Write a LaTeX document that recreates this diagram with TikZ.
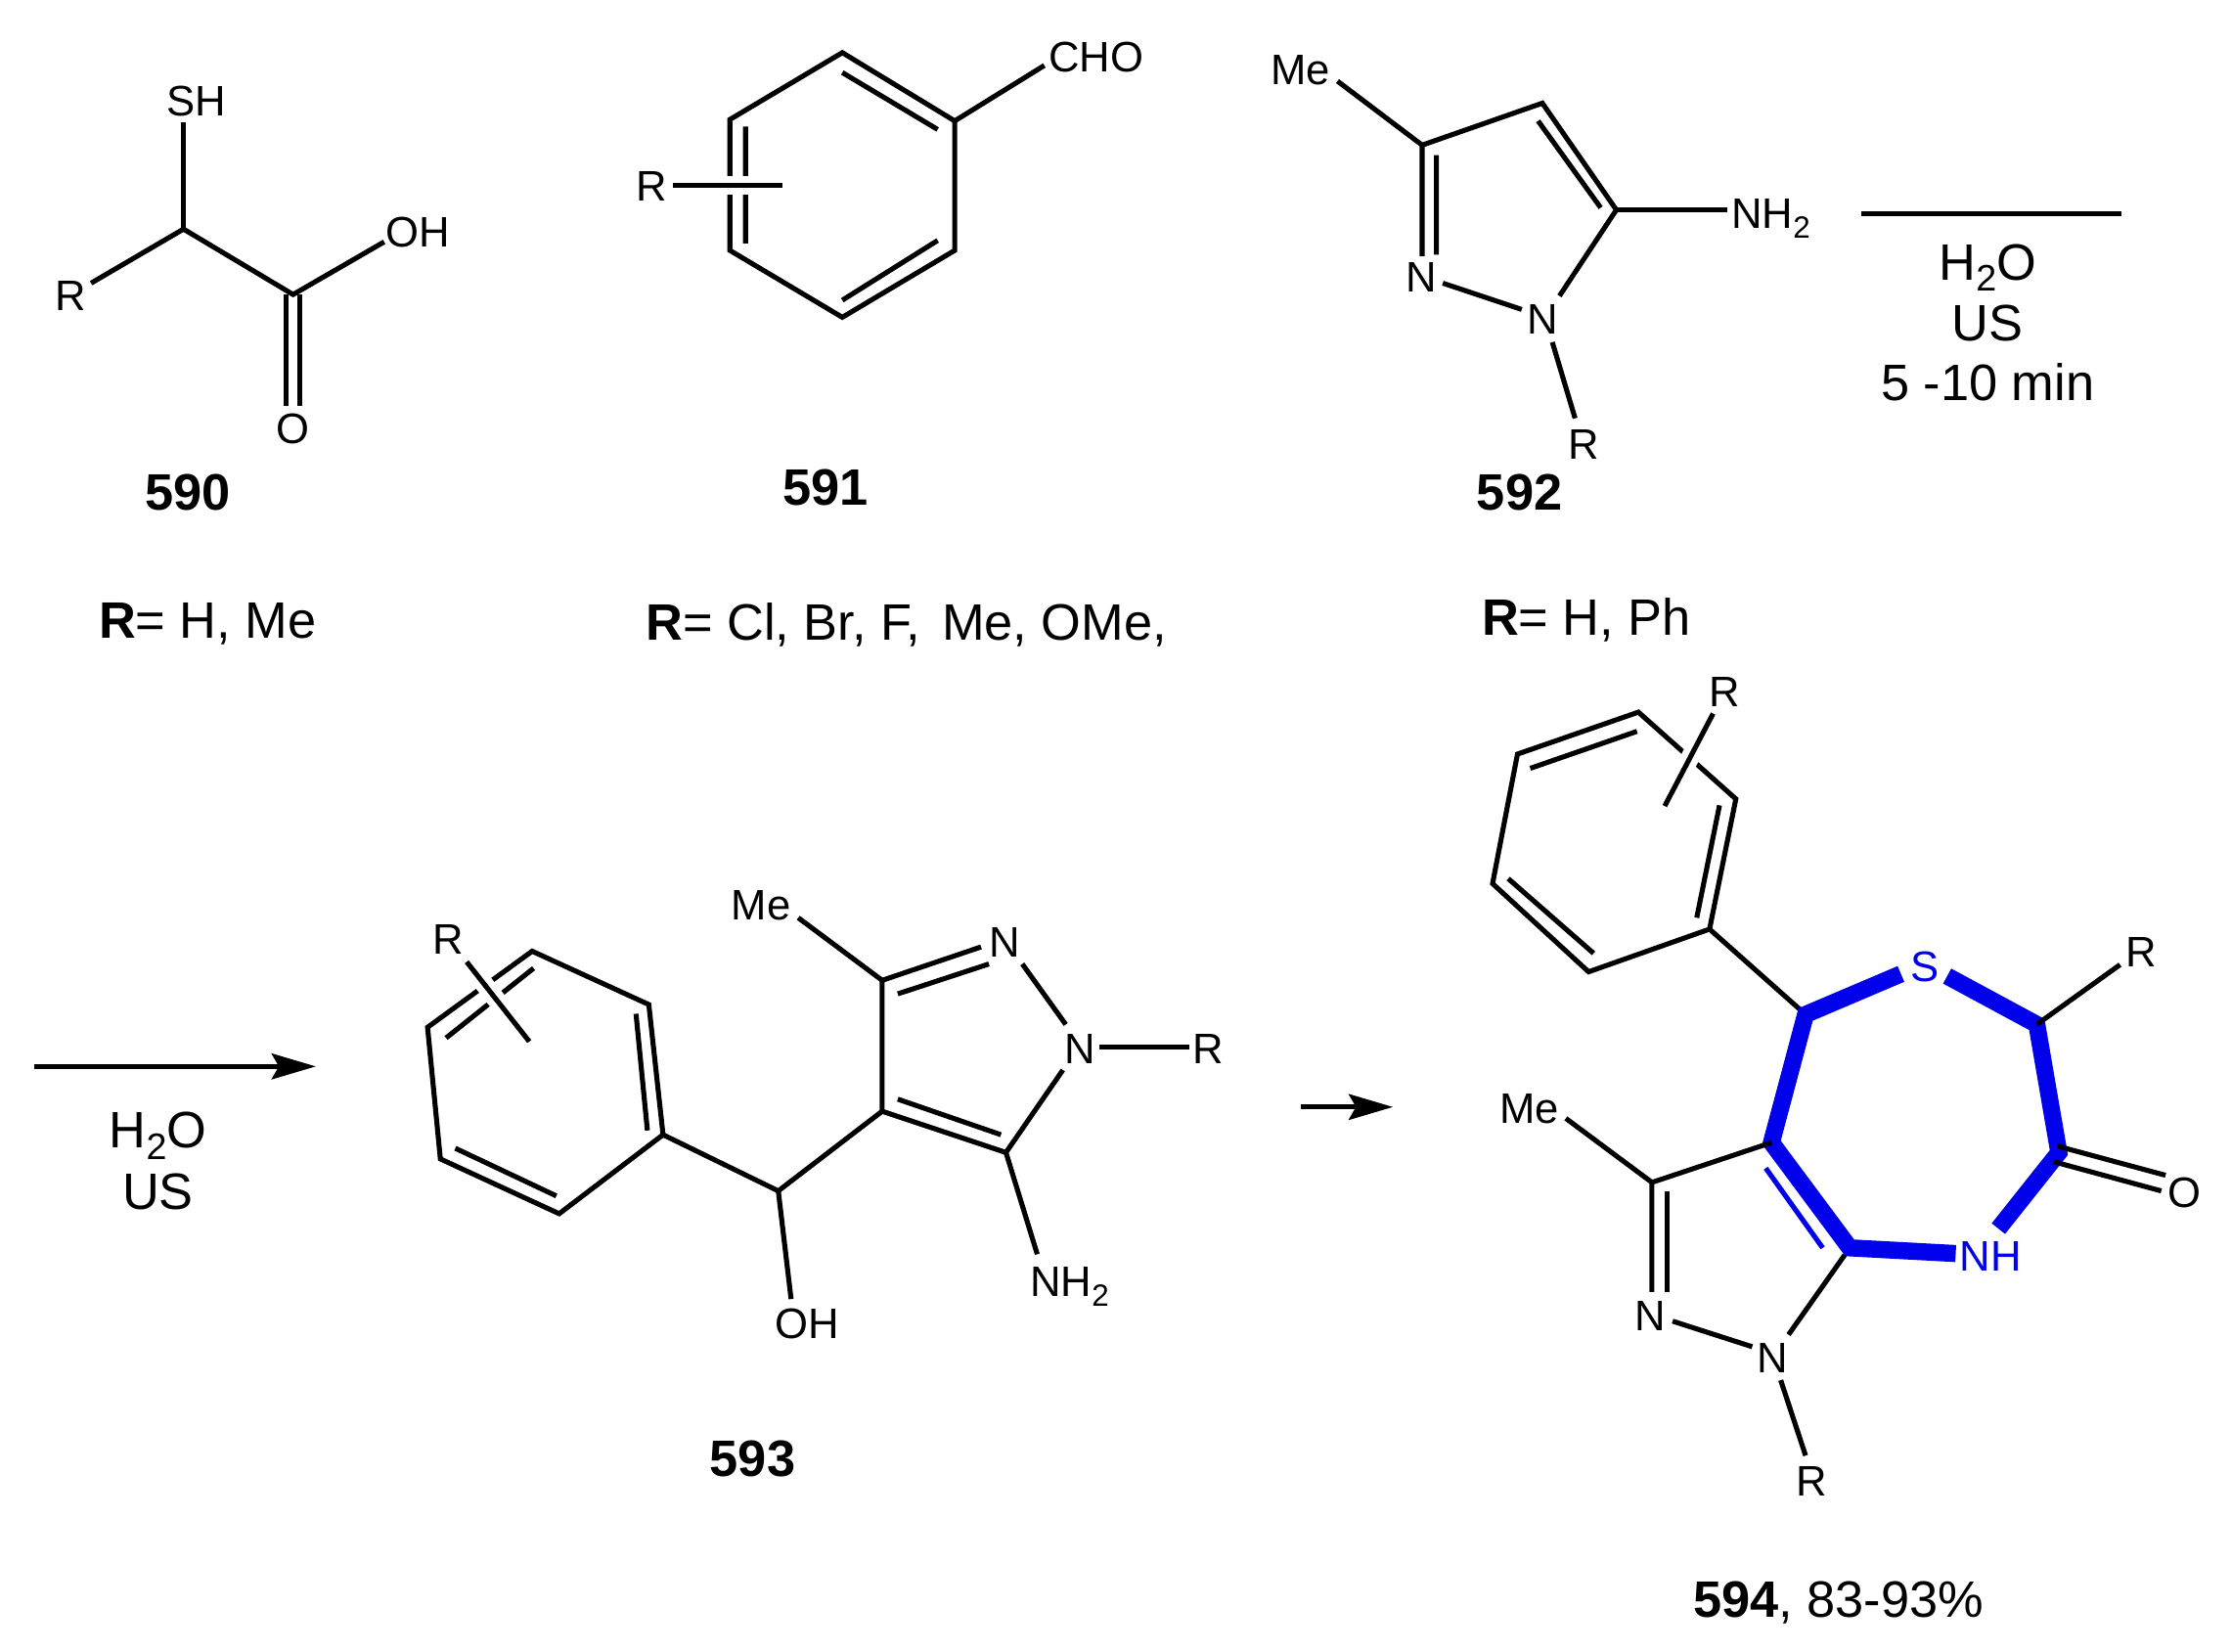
\documentclass[tikz,border=0pt]{standalone}
\usepackage{fontspec}
\usepackage{graphicx}
\setmainfont{Liberation Sans}
\usetikzlibrary{arrows.meta}
\definecolor{hl}{RGB}{0,0,235}
\newcommand\atm[3]{\coordinate (#1) at (#2,#3);}
\newcommand\sbt[1]{\raisebox{-.22em}{\scalebox{.72}{#1}}}
\tikzset{
  lab/.style={inner sep=0pt,outer sep=0pt,text height=21pt,text depth=0pt,font=\fontsize{30}{34}\selectfont},
  big/.style={inner sep=0pt,outer sep=0pt,text height=25.5pt,text depth=0pt,font=\fontsize{36}{40}\selectfont},
  bond/.style={line width=3.5pt,line join=miter,line cap=butt,black},
  halo/.style={line width=13pt,white},
  hbond/.style={line width=12pt,line join=miter,line cap=butt,hl},
  hthin/.style={line width=3.5pt,hl},
  rxn/.style={line width=3.5pt,-{Stealth[length=31pt,width=18pt,inset=5pt]}},
}
\begin{document}
\begin{tikzpicture}[x=1pt,y=-1pt]
\useasboundingbox (0,0) rectangle (1568,1161);

% ---------- 590
\node[lab] (aSH) at (138,71) {SH};
\node[lab] (aR) at (50,208) {R};
\node[lab] (aOH) at (294,163) {OH};
\node[lab] (aO) at (206,301) {O};
\atm{a1}{129}{161}\atm{a2}{206}{207}
\atm{aSHe}{129}{86}\atm{aRe}{64}{199}\atm{aOHe}{270}{170}
\atm{aDa}{201}{207}\atm{aDb}{201}{285}\atm{aDc}{211}{207}\atm{aDd}{211}{285}
\draw[bond] (aSHe)--(a1);
\draw[bond] (aRe)--(a1)--(a2)--(aOHe);
\draw[bond] (aDa)--(aDb) (aDc)--(aDd);
\node[big,font=\fontsize{36}{40}\selectfont\bfseries] (n590) at (132,346) {590};
\node[big] (r590) at (146,436) {\textbf{R}= H, Me};

% ---------- 591
\node[lab,anchor=west] (bCHO) at (737,40) {CHO};
\node[lab] (bR) at (458,131) {R};
\atm{b1}{592}{37}\atm{b2}{671}{85}\atm{b3}{671}{176}\atm{b4}{592}{223}\atm{b5}{513}{176}\atm{b6}{513}{84}
\atm{bRa}{473}{130}\atm{bRb}{550}{130}\atm{bCe}{734}{46}
\atm{bi1}{592}{51}\atm{bi2}{659}{91}\atm{bi3}{659}{169}\atm{bi4}{592}{211}\atm{bi5}{524}{171}\atm{bi6}{524}{89}
\draw[bond] (b1)--(b2)--(b3)--(b4)--(b5)--(b6)--cycle;
\draw[bond] (b2)--(bCe);
\draw[bond] (bi1)--(bi2) (bi3)--(bi4) (bi5)--(bi6);
\draw[halo] (bRa)--(bRb);
\draw[bond] (bRa)--(bRb);
\node[big,font=\fontsize{36}{40}\selectfont\bfseries] (n591) at (580,342) {591};
\node[big] (r591) at (637,437) {\textbf{R}= Cl, Br, F,\hspace{5pt} Me, OMe,};

% ---------- 592
\node[lab] (cMe) at (914,49) {Me};
\node[lab] (cN2) at (999,195) {N};
\node[lab] (cN1) at (1084,224) {N};
\node[lab] (cR) at (1113,312) {R};
\node[lab,anchor=west] (cNH) at (1217,150) {NH\sbt{2}};
\atm{c3}{999.5}{102}\atm{c4}{1084}{72.5}\atm{c5}{1136}{147.5}
\atm{cMee}{940}{57}\atm{cNHe}{1214}{147.5}\atm{cN1a}{1096}{208}
\atm{cNa}{1014}{199}\atm{cNb}{1069.5}{217.5}\atm{cN1b}{1091}{240.5}\atm{cRe}{1107}{294}
\atm{cDo}{999.5}{180}\atm{cDa}{1009.5}{109}\atm{cDb}{1009.5}{179}\atm{cDc}{1081}{85}\atm{cDd}{1125}{146}
\draw[bond] (cMee)--(c3);
\draw[bond] (cDo)--(c3)--(c4)--(c5)--(cN1a);
\draw[bond] (c5)--(cNHe);
\draw[bond] (cNa)--(cNb);
\draw[bond] (cN1b)--(cRe);
\draw[bond] (cDa)--(cDb) (cDc)--(cDd);
\node[big,font=\fontsize{36}{40}\selectfont\bfseries] (n592) at (1068,346) {592};
\node[big] (r592) at (1115,434) {\textbf{R}= H, Ph};

% ---------- reaction line
\atm{ra}{1308}{150}\atm{rb}{1491}{150}
\draw[bond] (ra)--(rb);
\node[big] (rH2O) at (1397,184) {H\sbt{2}O};
\node[big] (rUS) at (1397,227) {US};
\node[big] (rT) at (1397,269) {5 -10 min};

% ---------- arrow 1
\atm{sa}{24}{749.5}\atm{sb}{222}{749.5}
\draw[rxn] (sa)--(sb);
\node[big] (sH2O) at (111,794) {H\sbt{2}O};
\node[big] (sUS) at (111,837) {US};

% ---------- 593
\node[lab] (dMe) at (535,636) {Me};
\node[lab] (dN2) at (706,662) {N};
\node[lab] (dN1) at (759,737) {N};
\node[lab] (dRr) at (849,737) {R};
\node[lab] (dR) at (315,660) {R};
\node[lab,anchor=west] (dNH) at (724,901) {NH\sbt{2}};
\node[lab] (dOH) at (567,930) {OH};
\atm{d1}{374}{668.5}\atm{d2}{456}{706}\atm{d3}{466}{797.5}\atm{d4}{393}{853}\atm{d5}{309.5}{814.5}\atm{d6}{300.5}{722}
\atm{di1}{447}{712.5}\atm{di2}{455}{794.5}\atm{di3}{391}{840.5}\atm{di4}{320}{807}\atm{di5}{375}{680.5}\atm{di6}{313.5}{729.5}
\atm{dRa}{328}{676}\atm{dRb}{372}{732}
\atm{dC}{547}{837}\atm{d7}{620}{781}\atm{d8}{707}{810}\atm{d9}{620}{689}
\atm{dOHe}{556}{913}\atm{dMee}{561}{645}
\atm{dNa}{689.5}{665.5}\atm{dNb}{631}{698.5}\atm{dNc}{695}{677.5}
\atm{dNd}{718.5}{677.5}\atm{dNe}{749}{720}\atm{dNf}{772.5}{736}\atm{dNg}{836}{736}\atm{dNh}{747}{752}
\atm{dNi}{631}{772.5}\atm{dNj}{703.5}{797.5}\atm{dNk}{729}{881.5}
\draw[bond] (d1)--(d2)--(d3)--(d4)--(d5)--(d6)--cycle;
\draw[bond] (di1)--(di2) (di3)--(di4) (di5)--(di6);
\draw[halo] (dRa)--(dRb);
\draw[bond] (dRa)--(dRb);
\draw[bond] (d3)--(dC)--(d7);
\draw[bond] (dC)--(dOHe);
\draw[bond] (dNa)--(d9)--(d7)--(d8)--(dNh);
\draw[bond] (dMee)--(d9);
\draw[bond] (dNb)--(dNc);
\draw[bond] (dNd)--(dNe);
\draw[bond] (dNf)--(dNg);
\draw[bond] (dNi)--(dNj);
\draw[bond] (d8)--(dNk);
\node[big,font=\fontsize{36}{40}\selectfont\bfseries] (n593) at (529,1025) {593};

% ---------- arrow 2
\atm{ta}{914}{778}\atm{tb}{979}{778}
\draw[rxn] (ta)--(tb);

% ---------- 594
\node[lab] (eR) at (1212,486) {R};
\node[lab,text=hl] (eS) at (1353,679) {S};
\node[lab] (eRr) at (1505,669) {R};
\node[lab] (eMe) at (1075,779) {Me};
\node[lab] (eO) at (1535,838) {O};
\node[lab,text=hl] (eNH) at (1399,883) {NH};
\node[lab] (eN2) at (1159.5,925) {N};
\node[lab] (eN1) at (1246,954) {N};
\node[lab] (eRb) at (1273,1041) {R};
\atm{e1}{1151.5}{500.5}\atm{e2}{1220}{561.5}\atm{e3}{1201.5}{653}\atm{e4}{1116.5}{683}\atm{e5}{1049}{621}\atm{e6}{1066.5}{530}
\atm{ei1}{1150.5}{514}\atm{ei2}{1075.5}{540}\atm{ei3}{1208.5}{566}\atm{ei4}{1192.5}{645}\atm{ei5}{1120}{670}\atm{ei6}{1060}{617.5}
\atm{eRa}{1204}{501.5}\atm{eRc}{1170}{566.5}
\atm{e7}{1269}{713}\atm{e8}{1431.5}{720}\atm{e9}{1447}{810}\atm{e10}{1300}{877}\atm{e11}{1245}{803}
\atm{eSa}{1336}{684.5}\atm{eSb}{1368.5}{686}\atm{eNa}{1404.5}{863.5}\atm{eNb}{1374.5}{881}
\atm{ebi1}{1241}{821}\atm{ebi2}{1281}{877}
\atm{e12}{1161}{831}\atm{eMee}{1100.5}{786}\atm{eDa}{1161}{908}\atm{eDb}{1171.5}{837.5}\atm{eDc}{1171.5}{908}
\atm{eNc}{1175.5}{928.5}\atm{eNd}{1231.5}{946.5}\atm{eNe}{1257}{938}\atm{eNf}{1296.5}{882}\atm{eNg}{1251.5}{970}\atm{eNh}{1269}{1023}
\atm{eRd}{1490}{678}
\atm{eOa}{1446}{805.5}\atm{eOb}{1522}{826}\atm{eOc}{1443.5}{816.5}\atm{eOd}{1519}{837}
\draw[bond] (e1)--(e2)--(e3)--(e4)--(e5)--(e6)--cycle;
\draw[bond] (ei1)--(ei2) (ei3)--(ei4) (ei5)--(ei6);
\draw[halo] (eRa)--(eRc);
\draw[bond] (eRa)--(eRc);
\draw[bond] (e3)--(e7);
\draw[hbond] (eSa)--(e7)--(e11)--(e10)--(eNb);
\draw[hbond] (eSb)--(e8)--(e9)--(eNa);
\draw[hthin] (ebi1)--(ebi2);
\draw[bond] (e11)--(e12);
\draw[bond] (eDa)--(e12)--(eMee);
\draw[bond] (eDb)--(eDc);
\draw[bond] (eNc)--(eNd);
\draw[bond] (eNe)--(eNf);
\draw[bond] (eNg)--(eNh);
\draw[bond] (e8)--(eRd);
\draw[bond] (eOa)--(eOb) (eOc)--(eOd);
\node[big] (n594) at (1292,1124) {\textbf{594}, 83-93\%};
\end{tikzpicture}
\end{document}
